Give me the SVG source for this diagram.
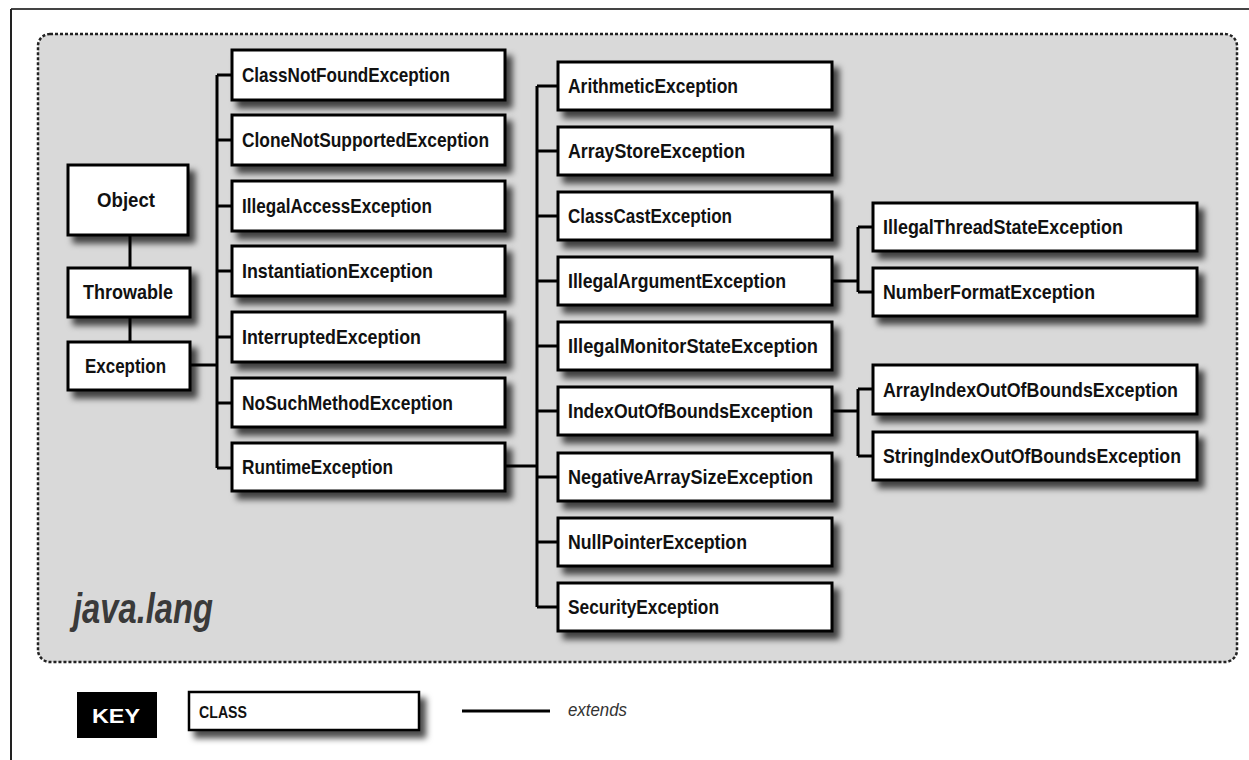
<svg xmlns="http://www.w3.org/2000/svg" width="1249" height="760" viewBox="0 0 1249 760">
  <defs>
    <filter id="sh" x="-10%" y="-20%" width="130%" height="160%">
      <feDropShadow dx="6" dy="7" stdDeviation="3" flood-color="#000" flood-opacity="0.7"/>
    </filter>
  </defs>
  <style>
    .box { fill: #fff; stroke: #000; stroke-width: 3; filter: url(#sh); }
    .lbl { font-family: "Liberation Sans", Arial, sans-serif; font-weight: bold; font-size: 21px; fill: #111; }
    .con { fill: none; stroke: #000; stroke-width: 3; }
  </style>
  <rect x="0" y="0" width="1249" height="760" fill="#fff"/>
  <!-- frame -->
  <line x1="11" y1="9" x2="1249" y2="9" stroke="#444" stroke-width="2"/>
  <line x1="11" y1="9" x2="11" y2="760" stroke="#222" stroke-width="2"/>
  <!-- package region -->
  <g id="package">
    <rect x="38" y="34" width="1199" height="628" rx="12" ry="12" fill="#d9d9d9" stroke="#222" stroke-width="2.5" stroke-dasharray="3,2"/>
    <text x="73" y="623" font-family="'Liberation Sans', Arial, sans-serif" font-weight="bold" font-style="italic" font-size="42" fill="#3a3a3a" textLength="140" lengthAdjust="spacingAndGlyphs">java.lang</text>
  </g>
  <!-- connectors -->
  <g id="connectors" class="con">
    <path d="M130,235 V268 M130,317 V342"/>
    <path d="M190,365 H217 M217,75 V468 M217,75 H232 M217,140 H232 M217,206 H232 M217,271 H232 M217,337 H232 M217,403 H232 M217,468 H232"/>
    <path d="M505,466 H537 M537,86 V607 M537,86 H558 M537,151 H558 M537,216 H558 M537,281 H558 M537,346 H558 M537,411 H558 M537,477 H558 M537,542 H558 M537,607 H558"/>
    <path d="M832,281 H858 M858,227 V292 M858,227 H873 M858,292 H873"/>
    <path d="M832,411 H858 M858,389 V456 M858,389 H873 M858,456 H873"/>
  </g>
  <!-- column 1 -->
  <g id="Object"><rect class="box" x="68" y="165" width="120" height="70"/><text class="lbl" x="97" y="207" textLength="58" lengthAdjust="spacingAndGlyphs">Object</text></g>
  <g id="Throwable"><rect class="box" x="68" y="268" width="122" height="49"/><text class="lbl" x="83" y="299" textLength="90" lengthAdjust="spacingAndGlyphs">Throwable</text></g>
  <g id="Exception"><rect class="box" x="68" y="342" width="122" height="48"/><text class="lbl" x="85" y="373" textLength="81" lengthAdjust="spacingAndGlyphs">Exception</text></g>
  <!-- column 2 -->
  <g id="ClassNotFoundException"><rect class="box" x="232" y="50" width="273" height="50"/><text class="lbl" x="242" y="82" textLength="208" lengthAdjust="spacingAndGlyphs">ClassNotFoundException</text></g>
  <g id="CloneNotSupportedException"><rect class="box" x="232" y="115" width="273" height="50"/><text class="lbl" x="242" y="147" textLength="247" lengthAdjust="spacingAndGlyphs">CloneNotSupportedException</text></g>
  <g id="IllegalAccessException"><rect class="box" x="232" y="181" width="273" height="50"/><text class="lbl" x="242" y="213" textLength="190" lengthAdjust="spacingAndGlyphs">IllegalAccessException</text></g>
  <g id="InstantiationException"><rect class="box" x="232" y="246" width="273" height="50"/><text class="lbl" x="242" y="278" textLength="191" lengthAdjust="spacingAndGlyphs">InstantiationException</text></g>
  <g id="InterruptedException"><rect class="box" x="232" y="312" width="273" height="50"/><text class="lbl" x="242" y="344" textLength="179" lengthAdjust="spacingAndGlyphs">InterruptedException</text></g>
  <g id="NoSuchMethodException"><rect class="box" x="232" y="378" width="273" height="49"/><text class="lbl" x="242" y="410" textLength="211" lengthAdjust="spacingAndGlyphs">NoSuchMethodException</text></g>
  <g id="RuntimeException"><rect class="box" x="232" y="443" width="273" height="48"/><text class="lbl" x="242" y="474" textLength="151" lengthAdjust="spacingAndGlyphs">RuntimeException</text></g>
  <!-- column 3 -->
  <g id="ArithmeticException"><rect class="box" x="558" y="62" width="274" height="48"/><text class="lbl" x="568" y="93" textLength="170" lengthAdjust="spacingAndGlyphs">ArithmeticException</text></g>
  <g id="ArrayStoreException"><rect class="box" x="558" y="127" width="274" height="48"/><text class="lbl" x="568" y="158" textLength="177" lengthAdjust="spacingAndGlyphs">ArrayStoreException</text></g>
  <g id="ClassCastException"><rect class="box" x="558" y="192" width="274" height="48"/><text class="lbl" x="568" y="223" textLength="164" lengthAdjust="spacingAndGlyphs">ClassCastException</text></g>
  <g id="IllegalArgumentException"><rect class="box" x="558" y="257" width="274" height="48"/><text class="lbl" x="568" y="288" textLength="218" lengthAdjust="spacingAndGlyphs">IllegalArgumentException</text></g>
  <g id="IllegalMonitorStateException"><rect class="box" x="558" y="322" width="274" height="48"/><text class="lbl" x="568" y="353" textLength="250" lengthAdjust="spacingAndGlyphs">IllegalMonitorStateException</text></g>
  <g id="IndexOutOfBoundsException"><rect class="box" x="558" y="387" width="274" height="48"/><text class="lbl" x="568" y="418" textLength="245" lengthAdjust="spacingAndGlyphs">IndexOutOfBoundsException</text></g>
  <g id="NegativeArraySizeException"><rect class="box" x="558" y="453" width="274" height="48"/><text class="lbl" x="568" y="484" textLength="245" lengthAdjust="spacingAndGlyphs">NegativeArraySizeException</text></g>
  <g id="NullPointerException"><rect class="box" x="558" y="518" width="274" height="48"/><text class="lbl" x="568" y="549" textLength="179" lengthAdjust="spacingAndGlyphs">NullPointerException</text></g>
  <g id="SecurityException"><rect class="box" x="558" y="583" width="274" height="48"/><text class="lbl" x="568" y="614" textLength="151" lengthAdjust="spacingAndGlyphs">SecurityException</text></g>
  <!-- column 4 -->
  <g id="IllegalThreadStateException"><rect class="box" x="873" y="203" width="324" height="48"/><text class="lbl" x="883" y="234" textLength="240" lengthAdjust="spacingAndGlyphs">IllegalThreadStateException</text></g>
  <g id="NumberFormatException"><rect class="box" x="873" y="268" width="324" height="48"/><text class="lbl" x="883" y="299" textLength="212" lengthAdjust="spacingAndGlyphs">NumberFormatException</text></g>
  <g id="ArrayIndexOutOfBoundsException"><rect class="box" x="873" y="365" width="324" height="49"/><text class="lbl" x="883" y="397" textLength="295" lengthAdjust="spacingAndGlyphs">ArrayIndexOutOfBoundsException</text></g>
  <g id="StringIndexOutOfBoundsException"><rect class="box" x="873" y="432" width="324" height="48"/><text class="lbl" x="883" y="463" textLength="298" lengthAdjust="spacingAndGlyphs">StringIndexOutOfBoundsException</text></g>
  <!-- key -->
  <g id="key">
    <rect x="77" y="692" width="80" height="46" fill="#000"/>
    <text x="92" y="723" font-family="'Liberation Sans', Arial, sans-serif" font-weight="bold" font-size="21" fill="#fff" textLength="48" lengthAdjust="spacingAndGlyphs">KEY</text>
    <rect class="box" x="189" y="692" width="230" height="38" style="stroke-width:2.5"/>
    <text x="199" y="718" font-family="'Liberation Sans', Arial, sans-serif" font-weight="bold" font-size="17" fill="#111" textLength="48" lengthAdjust="spacingAndGlyphs">CLASS</text>
    <line x1="462" y1="711" x2="550" y2="711" stroke="#000" stroke-width="3"/>
    <text x="568" y="716" font-family="'Liberation Sans', Arial, sans-serif" font-style="italic" font-size="18" fill="#333" textLength="59" lengthAdjust="spacingAndGlyphs">extends</text>
  </g>
</svg>
